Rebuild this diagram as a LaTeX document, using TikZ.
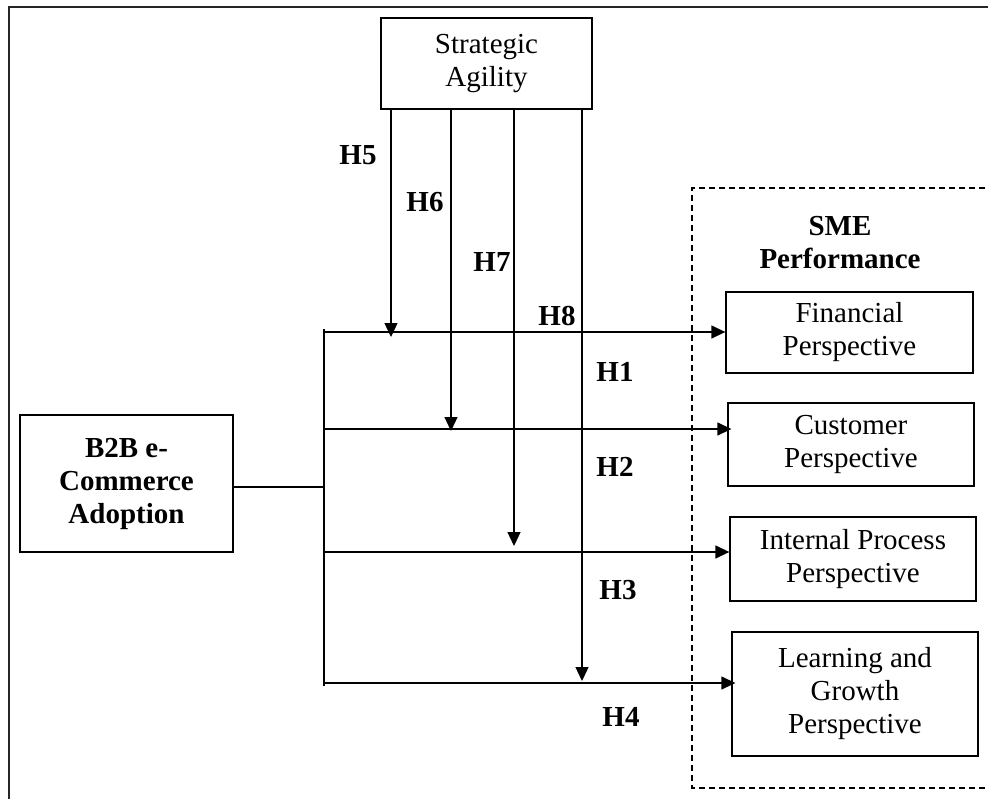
\documentclass[tikz,border=0pt]{standalone}
\usepackage{fontspec}
\setmainfont{Liberation Serif}
\usetikzlibrary{arrows.meta}
\begin{document}
\begin{tikzpicture}[x=1pt,y=-1pt,
  font=\fontsize{29}{33}\selectfont,
  box/.style={draw, line width=1.3pt, inner sep=0pt, align=center},
  conn/.style={line width=1.3pt},
  arr/.style={conn, -{Triangle[length=14pt,width=13pt]}},
  hlab/.style={font=\fontsize{29}{33}\selectfont\bfseries, inner sep=0pt}]
\useasboundingbox (0,0) rectangle (988,798);
\clip (0,0) rectangle (988,798);
% outer frame
\draw[line width=2pt, black!85] (8.5,805) -- (8.5,7) -- (995,7);
% dashed group
\draw[dashed, line width=1.2pt, dash pattern=on 6pt off 4pt] (995,188) -- (692,188) -- (692,788) -- (995,788);
\node[font=\fontsize{29}{33}\selectfont\bfseries, align=center, inner sep=0pt] (sme) at (840,243) {SME\\Performance};
% boxes
\node[box, minimum width=211pt, minimum height=91pt] (sa) at (486.5,63.5) {Strategic\\Agility};
\node[box, minimum width=213pt, minimum height=137pt, font=\fontsize{29}{33}\selectfont\bfseries] (b2b) at (126.5,483.5) {B2B e-\\Commerce\\Adoption};
\node[box, minimum width=247pt, minimum height=81pt] (fin) at (849.5,332.5) {Financial\\Perspective};
\node[box, minimum width=246pt, minimum height=83pt] (cus) at (851,444.5) {Customer\\Perspective};
\node[box, minimum width=246pt, minimum height=84pt] (int) at (853,559) {Internal Process\\Perspective};
\node[box, minimum width=246pt, minimum height=124pt] (lrn) at (855,694) {Learning and\\Growth\\Perspective};
% bar coordinates
\coordinate (bt) at (324,329);
\coordinate (bb) at (324,686);
\coordinate (bj) at (324,487);
\coordinate (h1) at (324,332);
\coordinate (h2) at (324,429);
\coordinate (h3) at (324,552);
\coordinate (h4) at (324,683);
% moderator arrow ends
\coordinate (e1) at (391,337);
\coordinate (e2) at (451,431);
\coordinate (e3) at (514,546);
\coordinate (e4) at (582,681);
% connectors
\draw[conn] (bt) -- (bb);
\draw[conn] (b2b.east |- bj) -- (bj);
\draw[arr] (h1) -- (h1 -| fin.west);
\draw[arr] (h2) -- ([xshift=4pt]h2 -| cus.west);
\draw[arr] (h3) -- (h3 -| int.west);
\draw[arr] (h4) -- ([xshift=4pt]h4 -| lrn.west);
\draw[arr] (sa.south -| e1) -- (e1);
\draw[arr] (sa.south -| e2) -- (e2);
\draw[arr] (sa.south -| e3) -- (e3);
\draw[arr] (sa.south -| e4) -- (e4);
% labels
\node[hlab] (l5) at (358,155) {H5};
\node[hlab] (l6) at (425,202) {H6};
\node[hlab] (l7) at (492,262) {H7};
\node[hlab] (l8) at (557,316) {H8};
\node[hlab] (l1) at (615,372) {H1};
\node[hlab] (l2) at (615,467) {H2};
\node[hlab] (l3) at (618,590) {H3};
\node[hlab] (l4) at (621,717) {H4};
\end{tikzpicture}
\end{document}
